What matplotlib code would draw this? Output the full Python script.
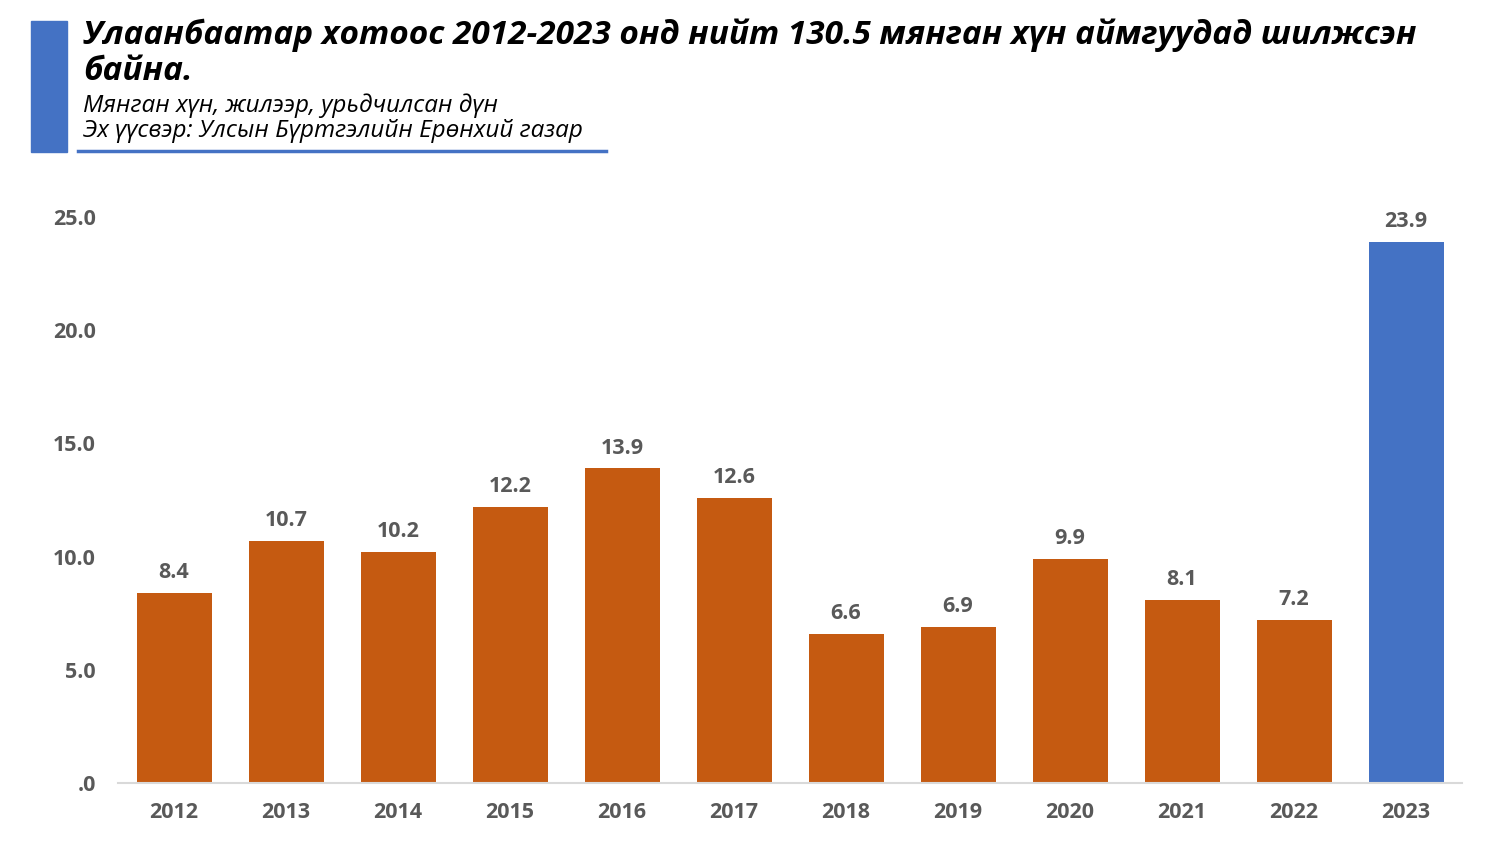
import matplotlib.pyplot as plt
from matplotlib.patches import Rectangle
from matplotlib.lines import Line2D

# Data: thousand people moving from Ulaanbaatar to aimags, by year
years = ['2012', '2013', '2014', '2015', '2016', '2017',
         '2018', '2019', '2020', '2021', '2022', '2023']
values = [8.4, 10.7, 10.2, 12.2, 13.9, 12.6, 6.6, 6.9, 9.9, 8.1, 7.2, 23.9]
yticks = [0, 5, 10, 15, 20, 25]
ytick_labels = ['.0', '5.0', '10.0', '15.0', '20.0', '25.0']

title = 'Улаанбаатар хотоос 2012-2023 онд нийт 130.5 мянган хүн аймгуудад шилжсэн\nбайна.'
subtitle = 'Мянган хүн, жилээр, урьдчилсан дүн\nЭх үүсвэр: Улсын Бүртгэлийн Ерөнхий газар'

orange = '#C55A11'
blue = '#4472C4'
grey = '#595959'

plt.rcParams['font.family'] = ['Open Sans', 'DejaVu Sans']

fig = plt.figure(figsize=(15, 8.44), dpi=100)
ax = fig.add_axes([0.0787, 0.0723, 0.8960, 0.6707])

colors = [orange] * (len(values) - 1) + [blue]
x = list(range(len(years)))
bars = ax.bar(x, values, width=0.67, color=colors)

for xi, v in zip(x, values):
    ax.annotate(f'{v:.1f}', (xi, v), xytext=(0, 7), textcoords='offset points',
                ha='center', va='bottom', fontsize=15.5, fontweight='bold', color=grey)

ax.set_xlim(-0.5, len(years) - 0.5)
ax.set_ylim(0, 25)
ax.set_xticks(x)
ax.set_xticklabels(years, fontsize=15.5, fontweight='bold', color=grey)
ax.set_yticks(yticks)
ax.set_yticklabels(ytick_labels, fontsize=15.5, fontweight='bold', color=grey)
ax.tick_params(axis='both', length=0)
ax.tick_params(axis='y', pad=16)
ax.tick_params(axis='x', pad=14)
for s in ['top', 'right', 'left']:
    ax.spines[s].set_visible(False)
ax.spines['bottom'].set_color('#D9D9D9')
ax.spines['bottom'].set_linewidth(1.5)

# header block
fig.patches.append(Rectangle((31 / 1500, 1 - 152 / 844), 36 / 1500, 131 / 844,
                             transform=fig.transFigure, color=blue))
fig.lines.append(Line2D([78 / 1500, 606 / 1500], [1 - 151 / 844, 1 - 151 / 844],
                        transform=fig.transFigure, color=blue, linewidth=2.5))
fig.text(83 / 1500, 1 - 19 / 844, title, ha='left', va='top', fontsize=24,
         fontweight='bold', fontstyle='italic', color='black', linespacing=1.12)
fig.text(83 / 1500, 1 - 93 / 844, subtitle, ha='left', va='top', fontsize=17.5,
         fontstyle='italic', color='black', linespacing=1.1)

fig.savefig('out.png', dpi=100)
